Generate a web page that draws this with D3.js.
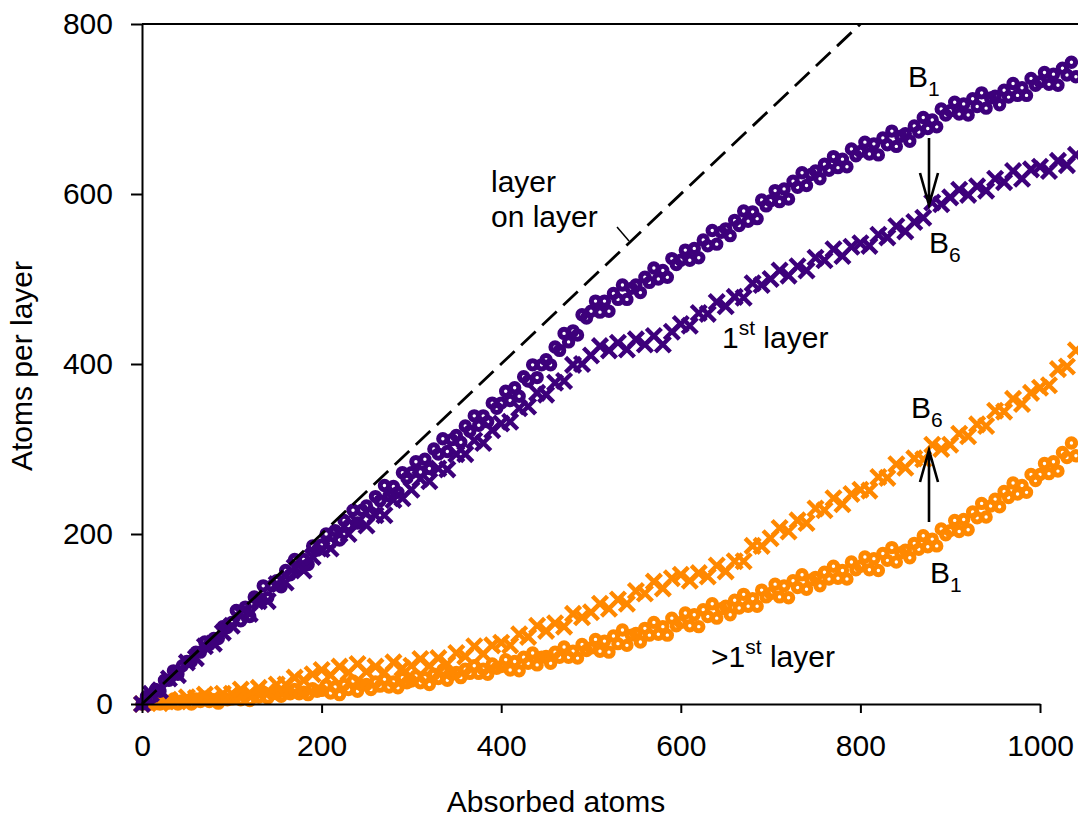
<!DOCTYPE html>
<html>
<head>
<meta charset="utf-8">
<script src="https://cdn.jsdelivr.net/npm/d3@7"></script>
<style>
  body { margin: 0; background: #fff; }
  text { font-family: "Liberation Sans", Arial, sans-serif; }
</style>
</head>
<body>
<div id="chart"></div>
<script>

// sampled every 5 atoms (circles) and every 10 atoms (crosses)
var circleStep = 5, crossStep = 10;

// 1st layer, B1 (purple circles)
var firstB1 = [0,9,7,17,15,28,28,39,35,45, 50,50,61,61,73,70,77,77,91,90,
  96,110,98,114,103,126,121,139,125,139, 145,138,157,152,170,159,170,164,186,181,
  187,200,189,204,193,216,210,228,213,228, 233,225,244,239,257,245,256,249,272,266,
  272,285,273,288,277,300,294,312,297,311, 316,308,327,321,339,328,339,332,354,348,
  354,368,357,372,362,385,380,399,384,399, 405,399,420,416,436,426,439,434,458,454,
  462,474,461,474,462,483,476,493,476,489, 493,484,502,496,513,500,510,502,524,517,
  522,534,522,536,525,546,539,557,541,555, 559,551,569,563,580,568,579,571,593,586,
  592,604,591,606,594,615,608,625,610,623, 627,618,635,628,644,631,641,632,653,645,
  650,661,647,659,646,666,658,674,656,668, 671,662,680,673,690,677,687,679,700,693,
  698,708,694,706,693,712,703,719,701,713, 715,705,722,714,730,716,725,716,736,728,
  732,743,729,741,728,748,740,755,738];

// 1st layer, B6 (purple crosses)
var firstB6 = [0,12,16,30,34,49,54,68,71,84, 92,107,106,121,121,141,143,161,157,173,
  182,183,200,200,214,210,222,222,240,242, 252,265,262,277,276,294,294,310,307,322,
  330,332,348,350,366,364,378,380,399,400, 410,421,416,425,417,429,423,433,423,438,
  447,445,460,459,473,468,479,478,495,493, 500,510,504,515,510,525,522,535,527,538,
  542,539,552,549,562,556,567,572,590,588, 596,605,599,609,604,618,614,627,618,629,
  632,627,639,634,646];

// >1st layer, B1 (orange circles)
var upperB1 = [0,3,0,2,0,4,1,6,0,4, 4,0,6,3,8,3,5,1,8,5,
  6,10,5,9,4,11,8,14,7,12, 12,9,14,12,17,12,14,11,18,15,
  16,22,13,20,11,23,17,27,15,22, 23,17,26,21,29,20,26,19,31,25,
  27,33,25,31,23,35,30,40,28,35, 37,31,41,36,45,36,41,35,47,42,
  44,52,40,50,39,55,48,60,46,55, 56,48,61,55,67,55,62,54,70,63,
  66,76,62,74,61,80,71,87,69,81, 83,73,89,81,96,82,91,81,101,92,
  96,107,92,105,91,111,103,118,101,112, 115,105,122,113,129,115,124,115,134,126,
  130,141,126,139,125,145,137,152,135,146, 149,139,155,147,162,148,157,147,167,158,
  162,173,158,171,157,177,169,184,167,178, 181,172,189,182,198,185,194,186,206,199,
  204,216,203,217,205,226,219,236,220,233, 241,232,250,243,260,247,257,249,270,263,
  270,283,271,285,274,296,290,307,292];

// >1st layer, B6 (orange crosses)
var upperB6 = [0,3,1,5,3,8,7,11,8,12, 12,17,13,19,15,23,23,31,28,35,
  40,34,44,37,47,38,44,37,49,42, 45,53,45,54,47,60,56,68,59,69,
  72,69,82,79,92,86,95,91,106,102, 108,118,112,123,118,133,130,144,136,148,
  152,145,154,150,163,156,168,168,186,186, 195,207,203,216,213,230,228,242,235,247,
  252,251,267,266,282,278,289,288,305,300, 305,318,315,329,327,345,344,359,353,366,
  372,375,394,397,416];

var layerOnLayer = [[0,0],[800,800]];
var xTicks = [0,200,400,600,800,1000];
var yTicks = [0,200,400,600,800];

var purple = "#3d007b", orange = "#ff8800";

var margin = {top: 24, right: 0, bottom: 118, left: 142},
    width = 1078 - margin.left - margin.right,
    height = 822 - margin.top - margin.bottom;

var x = d3.scaleLinear().domain([0, 1000]).range([0, 898]);
var y = d3.scaleLinear().domain([0, 800]).range([height, 0]);

function toPoints(vals, step){
  return vals.map(function(v, i){ return {a: i*step, n: v}; });
}

var svg = d3.select("#chart").append("svg")
    .attr("width", width + margin.left + margin.right)
    .attr("height", height + margin.top + margin.bottom)
  .append("g")
    .attr("transform", "translate(" + margin.left + "," + margin.top + ")");

function drawCircles(vals, color){
  svg.append("g").selectAll("circle")
      .data(toPoints(vals, circleStep))
      .enter().append("circle")
      .attr("cx", function(d){ return x(d.a); })
      .attr("cy", function(d){ return y(d.n); })
      .attr("r", 4.2)
      .style("fill", "none")
      .style("stroke", color)
      .style("stroke-width", 5);
}

function drawCrosses(vals, color){
  svg.append("g").selectAll("path")
      .data(toPoints(vals, crossStep))
      .enter().append("path")
      .attr("transform", function(d){ return "translate(" + x(d.a) + "," + y(d.n) + ")"; })
      .attr("d", "M-7.5,-7.5L7.5,7.5M-7.5,7.5L7.5,-7.5")
      .style("stroke", color)
      .style("stroke-width", 4.4);
}

drawCircles(upperB1, orange);
drawCrosses(upperB6, orange);
drawCircles(firstB1, purple);
drawCrosses(firstB6, purple);

// layer on layer (dashed)
svg.append("path")
    .datum(layerOnLayer)
    .attr("d", d3.line().x(function(d){ return x(d[0]); }).y(function(d){ return y(d[1]); }))
    .style("fill", "none")
    .style("stroke", "#000")
    .style("stroke-width", 2.8)
    .style("stroke-dasharray", "20,9");

// axes
var yAxis = svg.append("g")
    .call(d3.axisLeft(y).tickValues(yTicks).tickSize(11).tickSizeOuter(0).tickPadding(18));
var xAxis = svg.append("g")
    .attr("transform", "translate(0," + height + ")")
    .call(d3.axisBottom(x).tickValues(xTicks).tickFormat(d3.format("d"))
      .tickSize(9).tickSizeOuter(0).tickPadding(22));

[xAxis, yAxis].forEach(function(g){
  g.attr("font-family", "Liberation Sans, Arial, sans-serif").attr("font-size", 30);
  g.selectAll("path, line").style("stroke", "#000").style("stroke-width", 2);
  g.selectAll("text").style("fill", "#000");
});

// top frame line
svg.append("line")
    .attr("x1", 0).attr("x2", width).attr("y1", 0).attr("y2", 0)
    .style("stroke", "#000").style("stroke-width", 2);

// axis titles
svg.append("text")
    .attr("x", width / 2 - 54)
    .attr("y", height + 108)
    .style("text-anchor", "middle")
    .style("font-size", "30px")
    .text("Absorbed atoms");

svg.append("text")
    .attr("transform", "rotate(-90)")
    .attr("x", -(366 - margin.top))
    .attr("y", -margin.left + 32)
    .style("text-anchor", "middle")
    .style("font-size", "30px")
    .text("Atoms per layer");

// labels (page coordinates)
var ann = d3.select("svg").append("g").style("font-size", "30px");

function bLabel(px, py, sub){
  var t = ann.append("text").attr("x", px).attr("y", py);
  t.append("tspan").text("B");
  t.append("tspan").attr("dy", 9).style("font-size", "21px").text(sub);
}
bLabel(908, 87, "1");
bLabel(929, 253, "6");
bLabel(911, 418, "6");
bLabel(930, 583, "1");

var t1 = ann.append("text").attr("x", 722).attr("y", 348);
t1.append("tspan").text("1");
t1.append("tspan").attr("dy", -13).style("font-size", "21px").text("st");
t1.append("tspan").attr("dy", 13).text(" layer");

var t2 = ann.append("text").attr("x", 711).attr("y", 667);
t2.append("tspan").text(">1");
t2.append("tspan").attr("dy", -13).style("font-size", "21px").text("st");
t2.append("tspan").attr("dy", 13).text(" layer");

ann.append("text").attr("x", 491).attr("y", 192).text("layer");
ann.append("text").attr("x", 491).attr("y", 227).text("on layer");

// pointer to dashed line
ann.append("path").attr("d", "M617,227L629,241")
    .style("stroke", "#000").style("stroke-width", 1.5);

// arrows B1 -> B6
function arrow(px, y0, y1){
  var dir = y1 > y0 ? -1 : 1;
  ann.append("path")
      .attr("d", "M" + px + "," + y0 + "L" + px + "," + y1 +
                 "M" + (px - 9) + "," + (y1 + dir * 32) + "L" + px + "," + y1 + "L" + (px + 9) + "," + (y1 + dir * 32))
      .style("fill", "none").style("stroke", "#000").style("stroke-width", 2.6);
}
arrow(929, 138, 205);
arrow(929, 522, 450);

</script>
</body>
</html>
